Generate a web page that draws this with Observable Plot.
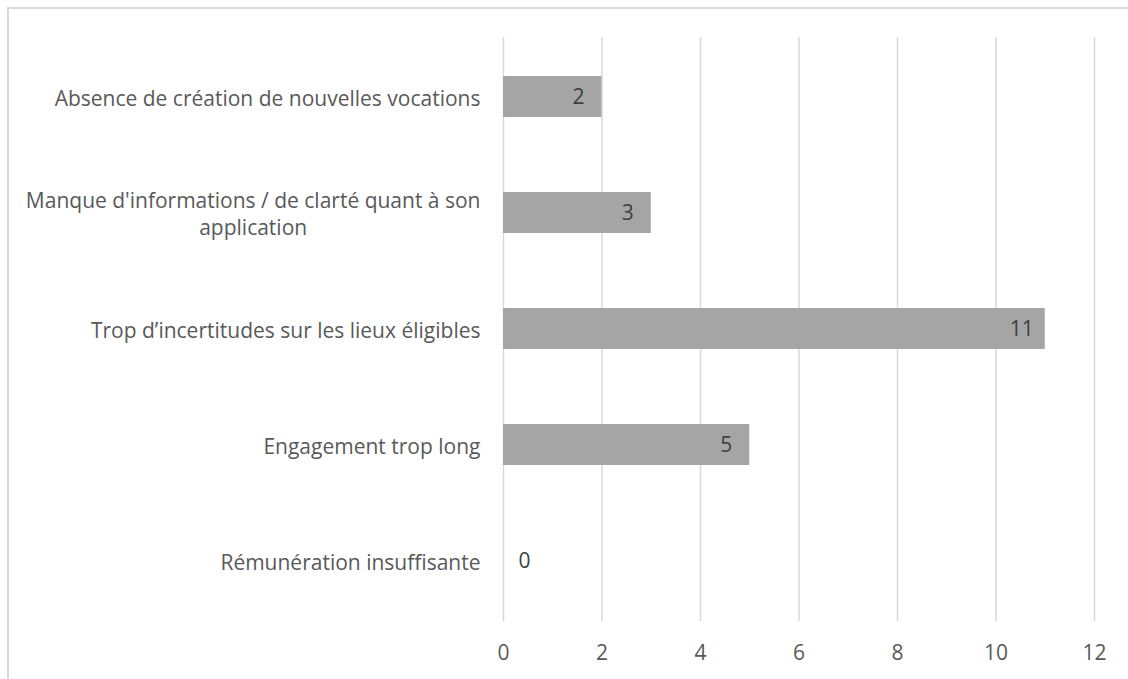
<!DOCTYPE html>
<html>
<head>
<meta charset="utf-8">
<script src="https://cdn.jsdelivr.net/npm/d3@7"></script>
<script src="https://cdn.jsdelivr.net/npm/@observablehq/plot@0.6"></script>
<style>
  html, body { margin: 0; padding: 0; background: #fff; overflow: hidden; }
  #wrap { position: relative; width: 1128px; height: 679px; }
  #frame { position: absolute; left: 7px; top: 7px; width: 1200px; height: 800px;
           border-left: 2px solid #d9d9d9; border-top: 2px solid #d9d9d9; }
  #chart { position: absolute; left: 0; top: 0; }
</style>
</head>
<body>
<div id="wrap"><div id="frame"></div><div id="chart"></div></div>
<script>
const categories = [
  "Absence de création de nouvelles vocations",
  "Manque d'informations / de clarté quant à son application",
  "Trop d’incertitudes sur les lieux éligibles",
  "Engagement trop long",
  "Rémunération insuffisante"
];
const values = [2, 3, 11, 5, 0];
const xTicks = [0, 2, 4, 6, 8, 10, 12];
const lineBreaks = {
  "Manque d'informations / de clarté quant à son application":
    "Manque d'informations / de clarté quant à son\napplication"
};

const data = categories.map((c, i) => ({category: c, value: values[i]}));
const FONT = "'Open Sans', Lato, sans-serif";
const FS = 21;

const plot = Plot.plot({
  width: 1128,
  height: 679,
  marginLeft: 503,
  marginRight: 34,
  marginTop: 37,
  marginBottom: 58,
  style: {fontFamily: FONT, fontSize: FS + "px", color: "#595959", background: "transparent"},
  x: {domain: [0, 12], ticks: xTicks, label: null},
  y: {domain: categories, paddingInner: 0.645, paddingOuter: 0.3225, label: null},
  marks: [
    Plot.gridX(xTicks, {stroke: "#d9d9d9", strokeOpacity: 1, strokeWidth: 1.5}),
    Plot.axisX({ticks: xTicks, tickSize: 0, tickPadding: 24, fontSize: FS, fill: "#595959", label: null}),
    Plot.axisY({tickSize: 0, tickPadding: 23, fontSize: FS, fill: "#595959", label: null,
      lineHeight: 1.3,
      tickFormat: d => lineBreaks[d] || d}),
    Plot.barX(data, {x: "value", y: "category", fill: "#a5a5a5"}),
    Plot.text(data.filter(d => d.value > 0), {x: "value", y: "category", text: d => String(d.value),
      dx: -23.5, textAnchor: "middle", fill: "#404040", fontSize: FS}),
    Plot.text(data.filter(d => d.value === 0), {x: "value", y: "category", text: d => String(d.value),
      dx: 21, textAnchor: "middle", fill: "#404040", fontSize: FS})
  ]
});

document.getElementById("chart").appendChild(plot);

// center multi-line y-axis labels (as in the reference)
plot.querySelectorAll("g[aria-label='y-axis tick label'] text").forEach(t => {
  const spans = t.querySelectorAll("tspan");
  if (spans.length > 1) {
    const w = t.getBBox().width;
    t.setAttribute("text-anchor", "middle");
    spans.forEach(s => s.setAttribute("x", String(-w / 2)));
  }
});
</script>
</body>
</html>
